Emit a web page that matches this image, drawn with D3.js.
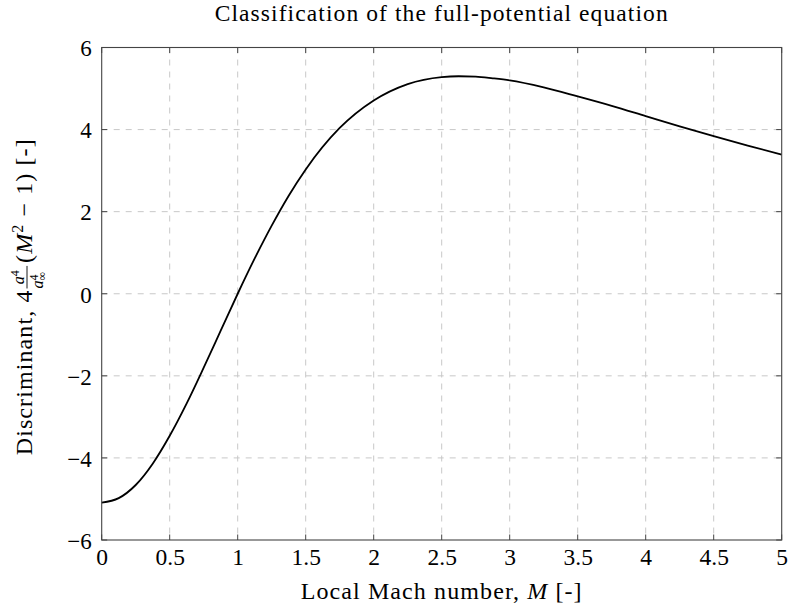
<!DOCTYPE html>
<html>
<head>
<meta charset="utf-8">
<script src="https://cdn.jsdelivr.net/npm/d3@7"></script>
<style>
  body { margin: 0; background: #fff; }
</style>
</head>
<body>
<svg width="792" height="608" font-family="'Liberation Serif', 'Times New Roman', serif"></svg>
<script>
// values
const machValues = [0, 0.125, 0.25, 0.375, 0.5, 0.625, 0.75, 0.875, 1, 1.125, 1.25, 1.375, 1.5, 1.75, 2, 2.25, 2.5, 2.625, 2.75, 2.875, 3, 3.25, 3.5, 3.75, 4, 4.25, 4.5, 4.75, 5];
const discValues = [-5.09, -4.98, -4.66, -4.14, -3.46, -2.67, -1.80, -0.90, 0, 0.86, 1.66, 2.39, 3.03, 4.04, 4.71, 5.11, 5.28, 5.30, 5.29, 5.25, 5.20, 5.03, 4.81, 4.58, 4.33, 4.08, 3.84, 3.61, 3.39];
const xTicks = [0, 0.5, 1, 1.5, 2, 2.5, 3, 3.5, 4, 4.5, 5];
const yTicks = [-6, -4, -2, 0, 2, 4, 6];

const serif = "'Liberation Serif', 'Times New Roman', serif";
const svg = d3.select('svg');
const margin = { top: 47.5, right: 10.3, bottom: 68, left: 101.7 };
const width = 792, height = 608;
const innerWidth = width - margin.left - margin.right;
const innerHeight = height - margin.top - margin.bottom;

const x = d3.scaleLinear().domain([0, 5]).range([0, innerWidth]);
const y = d3.scaleLinear().domain([-6, 6]).range([innerHeight, 0]);

const g = svg.append('g')
    .attr('transform', `translate(${margin.left},${margin.top})`);

// grid
g.selectAll('line.vgrid')
  .data(xTicks.slice(1, -1))
  .enter().append('line')
    .attr('x1', d => x(d)).attr('x2', d => x(d))
    .attr('y1', 0).attr('y2', innerHeight)
    .attr('stroke', '#c8c8c8')
    .attr('stroke-dasharray', '6,6');
g.selectAll('line.hgrid')
  .data(yTicks.slice(1, -1))
  .enter().append('line')
    .attr('y1', d => y(d)).attr('y2', d => y(d))
    .attr('x1', 0).attr('x2', innerWidth)
    .attr('stroke', '#c8c8c8')
    .attr('stroke-dasharray', '6,6');

// ticks inside on all four sides
const tickLen = 5.5;
xTicks.forEach(t => {
  g.append('line').attr('x1', x(t)).attr('x2', x(t)).attr('y1', innerHeight).attr('y2', innerHeight - tickLen).attr('stroke', '#444');
  g.append('line').attr('x1', x(t)).attr('x2', x(t)).attr('y1', 0).attr('y2', tickLen).attr('stroke', '#444');
});
yTicks.forEach(t => {
  g.append('line').attr('y1', y(t)).attr('y2', y(t)).attr('x1', 0).attr('x2', tickLen).attr('stroke', '#444');
  g.append('line').attr('y1', y(t)).attr('y2', y(t)).attr('x1', innerWidth).attr('x2', innerWidth - tickLen).attr('stroke', '#444');
});

// tick labels
const xAxis = d3.axisBottom(x).tickValues(xTicks).tickSize(0).tickPadding(8)
  .tickFormat(d => String(d));
g.append('g').attr('transform', `translate(0,${innerHeight})`).call(xAxis)
  .attr('font-family', serif).attr('font-size', 23.5)
  .call(a => a.select('.domain').remove())
  .call(a => a.selectAll('text').attr('dy', null).attr('y', 25));

const yAxis = d3.axisLeft(y).tickValues(yTicks).tickSize(0).tickPadding(10)
  .tickFormat(d => d < 0 ? '\u2212' + Math.abs(d) : String(d));
g.append('g').call(yAxis)
  .attr('font-family', serif).attr('font-size', 23)
  .call(a => a.select('.domain').remove())
  .call(a => a.selectAll('text').attr('dy', '0.36em'));

// curve
const data = machValues.map((m, i) => ({ m, v: discValues[i] }));
const line = d3.line().x(d => x(d.m)).y(d => y(d.v)).curve(d3.curveMonotoneX);
g.append('path')
  .datum(data)
  .attr('d', line)
  .attr('fill', 'none')
  .attr('stroke', '#000')
  .attr('stroke-width', 1.8);

// frame
g.append('rect')
  .attr('width', innerWidth).attr('height', innerHeight)
  .attr('fill', 'none').attr('stroke', '#444').attr('stroke-width', 1.1);

// title
svg.append('text')
  .attr('x', margin.left + innerWidth / 2).attr('y', 20.5)
  .attr('text-anchor', 'middle').attr('font-size', 23.5)
  .attr('letter-spacing', 1.1)
  .text('Classification of the full-potential equation');

// x label
const xl = svg.append('text')
  .attr('x', margin.left + innerWidth / 2).attr('y', 599)
  .attr('text-anchor', 'middle').attr('font-size', 24)
  .attr('letter-spacing', 1.1);
xl.append('tspan').text('Local Mach number, ');
xl.append('tspan').attr('font-style', 'italic').text('M');
xl.append('tspan').text(' [-]');

// y label, built piecewise in a rotated group
const yl = svg.append('g');
const fs = 24;
let cx = 0;
const t1 = yl.append('text').attr('font-size', fs).attr('letter-spacing', 1.1).attr('x', 0).text('Discriminant, 4');
cx += t1.node().getComputedTextLength() + 1;
// fraction
const num = yl.append('text').attr('font-size', 16).attr('y', -8).attr('x', cx);
num.append('tspan').attr('font-style', 'italic').text('a');
num.append('tspan').attr('font-size', 12).attr('dy', -5).text('4');
const den = yl.append('text').attr('font-size', 16).attr('y', 11).attr('x', cx);
den.append('tspan').attr('font-style', 'italic').text('a');
den.append('tspan').attr('font-size', 12).attr('dy', -5).text('4');
den.append('tspan').attr('font-size', 12).attr('dy', 8).attr('dx', -6).text('\u221e');
const fw = Math.max(num.node().getComputedTextLength(), den.node().getComputedTextLength());
num.attr('x', cx + (fw - num.node().getComputedTextLength()) / 2);
yl.append('line').attr('x1', cx).attr('x2', cx + fw).attr('y1', -5).attr('y2', -5)
  .attr('stroke', '#000').attr('stroke-width', 0.9);
cx += fw + 3;
const t2 = yl.append('text').attr('font-size', fs).attr('letter-spacing', 1.1).attr('x', cx);
t2.append('tspan').text('(');
t2.append('tspan').attr('font-style', 'italic').text('M');
t2.append('tspan').attr('font-size', 16).attr('dy', -9).text('2');
t2.append('tspan').attr('dy', 9).text(' \u2212 1) [-]');
cx += t2.node().getComputedTextLength();
yl.attr('transform', `translate(32,${margin.top + innerHeight / 2 + cx / 2 + 3}) rotate(-90)`);
</script>
</body>
</html>
